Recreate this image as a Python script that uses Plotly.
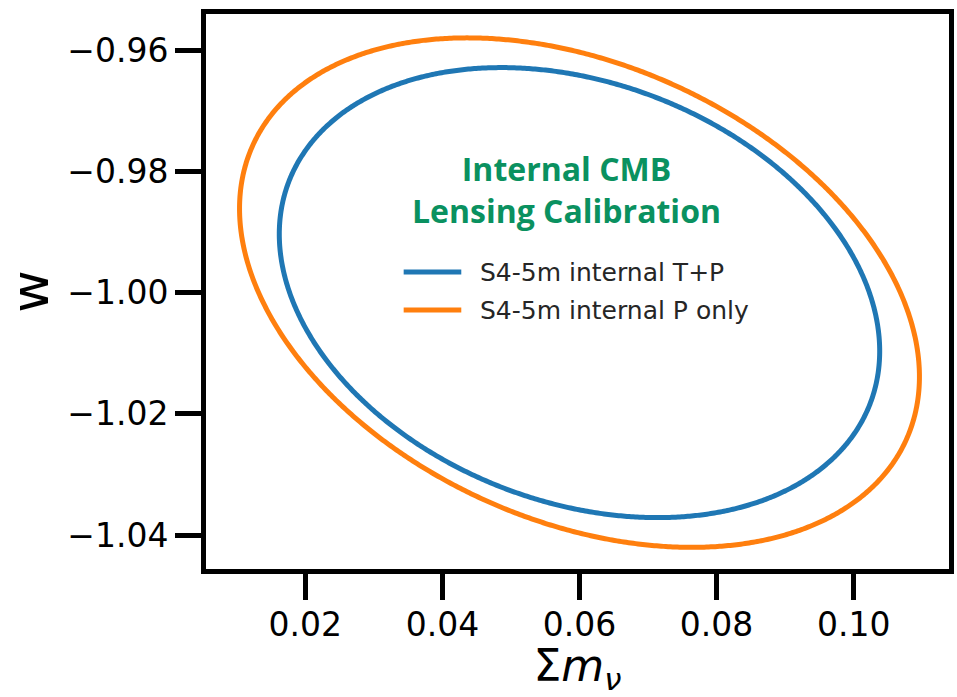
import numpy as np
import plotly.graph_objects as go

# Forecast contours for (sum of neutrino masses, w)
series_names = ["S4-5m internal T+P", "S4-5m internal P only"]
series_colors = ["#1f77b4", "#ff7f0e"]
fiducial_mnu = 0.06
fiducial_w = -1.0
mnu_extent = [0.0438, 0.0496]   # contour half-width along sum m_nu
w_extent = [0.0371, 0.0420]     # contour half-height along w
correlation = [-0.26, -0.33]    # mnu-w correlation coefficient

x_ticks = [0.02, 0.04, 0.06, 0.08, 0.10]
x_tick_labels = ["0.02", "0.04", "0.06", "0.08", "0.10"]
y_ticks = [-0.96, -0.98, -1.00, -1.02, -1.04]
y_tick_labels = ["\u22120.96", "\u22120.98", "\u22121.00", "\u22121.02", "\u22121.04"]


def contour(sx, sy, rho, n=900):
    cov = np.array([[sx * sx, rho * sx * sy], [rho * sx * sy, sy * sy]])
    L = np.linalg.cholesky(cov)
    t = np.linspace(0, 2 * np.pi, n)
    pts = L @ np.vstack([np.cos(t), np.sin(t)])
    return fiducial_mnu + pts[0], fiducial_w + pts[1]


fig = go.Figure()
for name, col, sx, sy, rho in zip(series_names, series_colors, mnu_extent, w_extent, correlation):
    xs, ys = contour(sx, sy, rho)
    fig.add_trace(go.Scatter(x=xs, y=ys, mode="lines", name=name,
                             line=dict(color=col, width=5, simplify=False),
                             showlegend=False, hoverinfo="skip"))

tick_font = dict(family="DejaVu Sans", size=33, color="#000000")
W, H = 957, 697
L_, R_, T_, B_ = 206, 3, 14, 128
pw, ph = W - L_ - R_, H - T_ - B_

fig.update_layout(
    width=W, height=H,
    margin=dict(l=L_, r=R_, t=T_, b=B_),
    paper_bgcolor="white", plot_bgcolor="white",
    xaxis=dict(range=[0.005507, 0.113913], tickvals=x_ticks, ticktext=x_tick_labels,
               showgrid=False, zeroline=False, showline=True, linewidth=5,
               linecolor="black", mirror=True, ticks="outside", ticklen=26,
               tickwidth=5, tickcolor="black", tickfont=tick_font,
               ticklabelstandoff=-4,
               title=dict(text="\u03a3<i>m</i><sub><i>\u03bd</i></sub>",
                          font=dict(family="DejaVu Sans", size=44, color="#000000"),
                          standoff=12)),
    yaxis=dict(range=[-1.045573, -0.954064], tickvals=y_ticks, ticktext=y_tick_labels,
               showgrid=False, zeroline=False, showline=True, linewidth=5,
               linecolor="black", mirror=True, ticks="outside", ticklen=26,
               tickwidth=5, tickcolor="black", tickfont=tick_font,
               title=dict(text="w", font=dict(family="DejaVu Sans", size=52, color="#000000"),
                          standoff=17)),
)

# Panel heading
fig.add_annotation(x=(569 - L_) / pw, y=(H - B_ - 189) / ph, xref="paper", yref="paper",
                   text="<b>Internal CMB<br>Lensing Calibration</b>", showarrow=False,
                   xanchor="center", yanchor="middle", align="center",
                   font=dict(family="Open Sans", size=32, color="#0a9160"))

# Legend keys
for i, (name, col) in enumerate(zip(series_names, series_colors)):
    ypix = 272 + 38 * i
    yp = (H - B_ - ypix) / ph
    fig.add_shape(type="line", xref="paper", yref="paper",
                  x0=(405 - L_) / pw, x1=(463 - L_) / pw, y0=yp, y1=yp,
                  line=dict(color=col, width=5))
    fig.add_annotation(x=(480 - L_) / pw, y=yp, xref="paper", yref="paper",
                       text=name, showarrow=False, xanchor="left", yanchor="middle",
                       font=dict(family="DejaVu Sans", size=25, color="#262626"))

fig.write_html("out.html")
